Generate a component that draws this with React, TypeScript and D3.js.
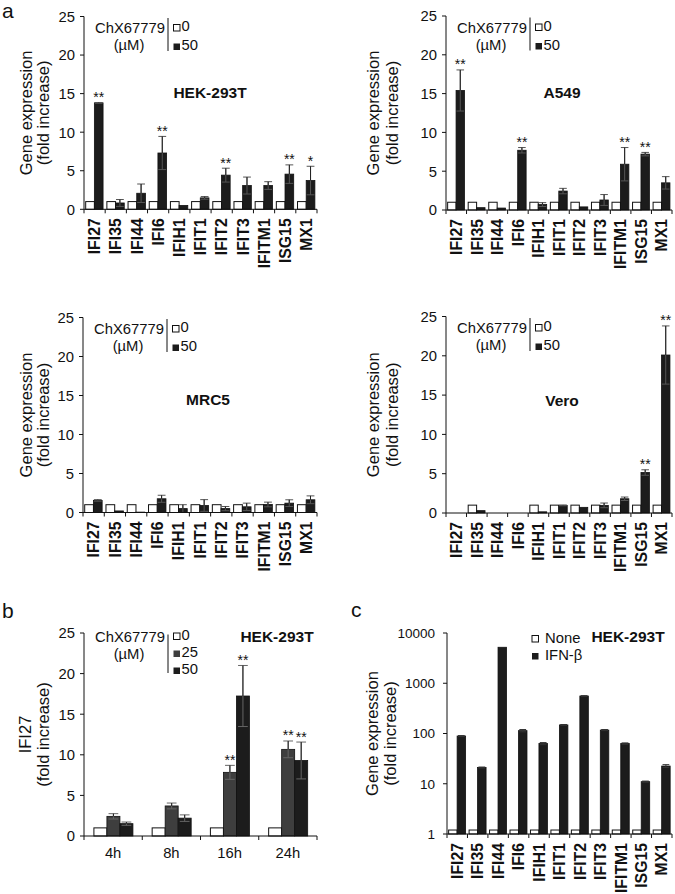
import React from "react";
import * as d3 from "d3";

const FONT = "'Liberation Sans', Arial, sans-serif";

const genes = ["IFI27", "IFI35", "IFI44", "IFI6", "IFIH1", "IFIT1", "IFIT2", "IFIT3", "IFITM1", "ISG15", "MX1"];
const linTicks = [0, 5, 10, 15, 20, 25];

// Panel a – HEK-293T
const hekCtrl = [1, 1, 1, 1, 1, 1, 1, 1, 1, 1, 1];
const hekTreat = [13.8, 0.82, 2.08, 7.3, 0.5, 1.48, 4.43, 3.08, 3.08, 4.56, 3.73];
const hekErr = [0.05, 0.45, 1.2, 2.15, 0, 0.17, 0.9, 1.1, 0.5, 1.2, 1.85];
const hekSig = ["**", "", "", "**", "", "", "**", "", "", "**", "*"];

// Panel a – A549
const a549Ctrl = [1, 1, 1, 1, 1, 1, 1, 1, 1, 1, 1];
const a549Treat = [15.4, 0.3, 0.25, 7.7, 0.7, 2.44, 0.4, 1.29, 5.9, 7.2, 3.5];
const a549Err = [2.65, 0, 0, 0.35, 0.25, 0.35, 0, 0.7, 2.15, 0.22, 0.8];
const a549Sig = ["**", "", "", "**", "", "", "", "", "**", "**", ""];

// Panel a – MRC5
const mrc5Ctrl = [1, 1, 1, 1, 1, 1, 1, 1, 1, 1, 1];
const mrc5Treat = [1.55, 0.2, 0.05, 1.76, 0.5, 0.9, 0.5, 0.73, 1.03, 1.2, 1.63];
const mrc5Err = [0.1, 0, 0, 0.45, 0.5, 0.75, 0.27, 0.47, 0.3, 0.43, 0.5];
const mrc5Sig = ["", "", "", "", "", "", "", "", "", "", ""];

// Panel a – Vero
const veroCtrl = [null, 1, null, null, 1, 1, 1, 1, 1, 1, 1];
const veroTreat = [null, 0.3, null, null, 0.15, 0.97, 0.72, 0.97, 1.81, 5.15, 20.1];
const veroErr = [0, 0, 0, 0, 0, 0.05, 0, 0.3, 0.22, 0.35, 3.7];
const veroSig = ["", "", "", "", "", "", "", "", "", "**", "**"];

// Panel b – IFI27 time course
const times = ["4h", "8h", "16h", "24h"];
const b0 = [1, 1, 1, 1];
const b25 = [2.42, 3.7, 7.84, 10.67];
const b25Err = [0.33, 0.36, 0.86, 1.03];
const b25Sig = ["", "", "**", "**"];
const b50 = [1.52, 2.2, 17.24, 9.3];
const b50Err = [0.2, 0.4, 3.76, 2.27];
const b50Sig = ["", "", "**", "**"];

// Panel c – IFN-beta
const cNone = [1.2, 1.2, 1.2, 1.2, 1.2, 1.2, 1.2, 1.2, 1.2, 1.2, 1.2];
const cIfn = [89, 21, 5200, 114, 63, 148, 557, 117, 63, 11, 22.5];
const cErr = [2, 0.5, 0, 6, 3, 3, 10, 3, 2, 0.3, 1.5];
const logTicks = [1, 10, 100, 1000, 10000];

const BLACK = "#1c1c1c";
const GRAY = "#3e3e3e";

function YTitle({ x1, x2, cy, lines }: { x1: number; x2: number; cy: number; lines: string[] }) {
  return (
    <g fontFamily={FONT} fontSize={16.5} fill="#111">
      <text transform={`translate(${x1},${cy}) rotate(-90)`} textAnchor="middle" dy="0.35em">{lines[0]}</text>
      <text transform={`translate(${x2},${cy}) rotate(-90)`} textAnchor="middle" dy="0.35em">{lines[1]}</text>
    </g>
  );
}

function ErrBar({ cx, yLo, yHi, w, color }: { cx: number; yLo: number; yHi: number; w: number; color: string }) {
  return (
    <g stroke={color} strokeWidth={1}>
      <line x1={cx} x2={cx} y1={yLo} y2={yHi} />
      <line x1={cx - w / 2} x2={cx + w / 2} y1={yHi} y2={yHi} />
      <line x1={cx - w / 2} x2={cx + w / 2} y1={yLo} y2={yLo} />
    </g>
  );
}

function Legend({ x0, yTop, labels, fills, rowYs, lineY2 }: { x0: number; yTop: number; labels: string[]; fills: string[]; rowYs: number[]; lineY2: number }) {
  return (
    <g fontFamily={FONT} fontSize={14.8} fill="#111">
      <text x={x0 + 11} y={yTop + rowYs[0] + 2}>ChX67779</text>
      <text x={x0 + 45} y={yTop + (rowYs[0] + 2) + 17} textAnchor="middle">(µM)</text>
      <line x1={x0 + 84} x2={x0 + 84} y1={yTop + 1.5} y2={yTop + lineY2} stroke="#111" />
      {labels.map((l, i) => (
        <g key={l}>
          <rect x={x0 + 89.5} y={yTop + rowYs[i] - 6.5} width={6.5} height={6.5} fill={fills[i]} stroke="#111" strokeWidth={fills[i] === "#fff" ? 1 : 0} />
          <text x={x0 + 97.5} y={yTop + rowYs[i]}>{l}</text>
        </g>
      ))}
    </g>
  );
}

type PanelAProps = {
  x0: number; x1: number; yTop: number; yBot: number;
  ctrl: (number | null)[]; treat: (number | null)[]; err: number[]; sig: string[];
  cell: string; cellX: number; cellY: number; titleX1: number; titleX2: number;
};

function PanelA(p: PanelAProps) {
  const x = d3.scaleBand<string>().domain(genes).range([p.x0, p.x1]);
  const bw = x.bandwidth();
  const sub = d3.scaleBand<string>().domain(["c", "t"]).range([bw * 0.08, bw * 0.9]);
  const y = d3.scaleLinear().domain([0, 25]).range([p.yBot, p.yTop]);
  const sw = sub.bandwidth();
  return (
    <g>
      <YTitle x1={p.titleX1} x2={p.titleX2} cy={(p.yTop + p.yBot) / 2} lines={["Gene expression", "(fold increase)"]} />
      {genes.map((g, i) => {
        const c = p.ctrl[i];
        const t = p.treat[i];
        const bx = x(g)!;
        const tc = bx + sub("t")! + sw / 2;
        const e = p.err[i];
        return (
          <g key={g}>
            {c != null && (
              <rect x={bx + sub("c")!} y={y(c)} width={sw} height={y(0) - y(c)} fill="#fff" stroke="#111" strokeWidth={1} />
            )}
            {t != null && (
              <rect x={bx + sub("t")!} y={y(t)} width={sw} height={y(0) - y(t)} fill={BLACK} stroke="#111" strokeWidth={0.8} />
            )}
            {t != null && e > 0 && (
              <ErrBar cx={tc} yLo={y(Math.max(0, t - e))} yHi={y(t + e)} w={sw * 0.9} color="#555" />
            )}
            {t != null && e > 0 && (
              <line x1={tc} x2={tc} y1={y(t)} y2={y(t + e)} stroke="#222" />
            )}
            {t != null && p.sig[i] && (
              <text x={tc} y={y(t + e) - 0.5} textAnchor="middle" fontFamily={FONT} fontSize={14} fill="#111">{p.sig[i]}</text>
            )}
          </g>
        );
      })}
      <line x1={p.x0} x2={p.x0} y1={p.yTop} y2={p.yBot} stroke="#111" />
      {linTicks.map((t) => (
        <g key={t}>
          <line x1={p.x0 - 4} x2={p.x0} y1={y(t)} y2={y(t)} stroke="#111" />
          <text x={p.x0 - 9} y={y(t)} dy="0.36em" textAnchor="end" fontFamily={FONT} fontSize={14.8} fill="#111">{t}</text>
        </g>
      ))}
      <line x1={p.x0} x2={p.x1} y1={p.yBot} y2={p.yBot} stroke="#111" />
      {genes.map((g) => (
        <line key={g} x1={x(g)! + bw} x2={x(g)! + bw} y1={p.yBot} y2={p.yBot + 4} stroke="#111" />
      ))}
      <line x1={p.x0} x2={p.x0} y1={p.yBot} y2={p.yBot + 4} stroke="#111" />
      {genes.map((g) => (
        <text key={g} transform={`translate(${x(g)! + bw / 2},${p.yBot + 9}) rotate(-90)`} textAnchor="end" dy="0.36em" fontFamily={FONT} fontWeight="bold" fontSize={15.8} fill="#111">{g}</text>
      ))}
      <Legend x0={p.x0} yTop={p.yTop} labels={["0", "50"]} fills={["#fff", BLACK]} rowYs={[14.5, 33.5]} lineY2={34.5} />
      <text x={p.cellX} y={p.cellY} textAnchor="middle" fontFamily={FONT} fontWeight="bold" fontSize={15.5} fill="#111">{p.cell}</text>
    </g>
  );
}

function PanelB() {
  const x0 = 84, x1 = 317, yTop = 633, yBot = 836;
  const x = d3.scaleBand<string>().domain(times).range([x0, x1]);
  const bw = x.bandwidth();
  const sub = d3.scaleBand<string>().domain(["0", "25", "50"]).range([bw * 0.17, bw * 0.84]);
  const sw = sub.bandwidth();
  const y = d3.scaleLinear().domain([0, 25]).range([yBot, yTop]);
  const series = [
    { key: "0", vals: b0, err: [0, 0, 0, 0], sig: ["", "", "", ""], fill: "#fff" },
    { key: "25", vals: b25, err: b25Err, sig: b25Sig, fill: GRAY },
    { key: "50", vals: b50, err: b50Err, sig: b50Sig, fill: BLACK },
  ];
  return (
    <g>
      <YTitle x1={25} x2={43.5} cy={(yTop + yBot) / 2} lines={["IFI27", "(fold increase)"]} />
      {times.map((tm, i) => (
        <g key={tm}>
          {series.map((s) => {
            const v = s.vals[i];
            const bx = x(tm)! + sub(s.key)!;
            const cx = bx + sw / 2;
            const e = s.err[i];
            return (
              <g key={s.key}>
                <rect x={bx} y={y(v)} width={sw} height={y(0) - y(v)} fill={s.fill} stroke="#111" strokeWidth={s.fill === "#fff" ? 1 : 0.8} />
                {e > 0 && <ErrBar cx={cx} yLo={y(v - e)} yHi={y(v + e)} w={sw * 0.75} color="#666" />}
                {e > 0 && <line x1={cx} x2={cx} y1={y(v)} y2={y(v + e)} stroke="#222" />}
                {s.sig[i] && (
                  <text x={cx} y={y(v + e) - 0.5} textAnchor="middle" fontFamily={FONT} fontSize={14} fill="#111">{s.sig[i]}</text>
                )}
              </g>
            );
          })}
        </g>
      ))}
      <line x1={x0} x2={x0} y1={yTop} y2={yBot} stroke="#111" />
      {linTicks.map((t) => (
        <g key={t}>
          <line x1={x0 - 4} x2={x0} y1={y(t)} y2={y(t)} stroke="#111" />
          <text x={x0 - 9} y={y(t)} dy="0.36em" textAnchor="end" fontFamily={FONT} fontSize={14.8} fill="#111">{t}</text>
        </g>
      ))}
      <line x1={x0} x2={x1} y1={yBot} y2={yBot} stroke="#111" />
      <line x1={x0} x2={x0} y1={yBot} y2={yBot + 4} stroke="#111" />
      {times.map((tm) => (
        <g key={tm}>
          <line x1={x(tm)! + bw} x2={x(tm)! + bw} y1={yBot} y2={yBot + 4} stroke="#111" />
          <text x={x(tm)! + bw / 2} y={yBot + 22} textAnchor="middle" fontFamily={FONT} fontSize={14.8} fill="#111">{tm}</text>
        </g>
      ))}
      <Legend x0={x0} yTop={yTop} labels={["0", "25", "50"]} fills={["#fff", GRAY, BLACK]} rowYs={[6.5, 24, 41]} lineY2={40} />
      <text x={277} y={642} textAnchor="middle" fontFamily={FONT} fontWeight="bold" fontSize={15.5} fill="#111">HEK-293T</text>
    </g>
  );
}

function PanelC() {
  const x0 = 447, x1 = 672, yTop = 633, yBot = 834;
  const x = d3.scaleBand<string>().domain(genes).range([x0, x1]);
  const bw = x.bandwidth();
  const sub = d3.scaleBand<string>().domain(["n", "i"]).range([bw * 0.08, bw * 0.91]);
  const sw = sub.bandwidth();
  const y = d3.scaleLog().domain([1, 10000]).range([yBot, yTop]);
  return (
    <g>
      <YTitle x1={372.5} x2={390.5} cy={(yTop + yBot) / 2} lines={["Gene expression", "(fold increase)"]} />
      {genes.map((g, i) => {
        const bx = x(g)!;
        const v = cIfn[i];
        const e = cErr[i];
        const cx = bx + sub("i")! + sw / 2;
        return (
          <g key={g}>
            <rect x={bx + sub("n")!} y={y(cNone[i])} width={sw} height={y(1) - y(cNone[i])} fill="#fff" stroke="#111" strokeWidth={1} />
            <rect x={bx + sub("i")!} y={y(v)} width={sw} height={y(1) - y(v)} fill={BLACK} stroke="#111" strokeWidth={0.8} />
            {e > 0 && <ErrBar cx={cx} yLo={y(v - e)} yHi={y(v + e)} w={sw * 0.8} color="#333" />}
          </g>
        );
      })}
      <line x1={x0} x2={x0} y1={yTop} y2={yBot} stroke="#111" />
      {logTicks.map((t) => (
        <g key={t}>
          <line x1={x0 - 4} x2={x0} y1={y(t)} y2={y(t)} stroke="#111" />
          <text x={x0 - 12} y={y(t)} dy="0.36em" textAnchor="end" fontFamily={FONT} fontSize={13.5} fill="#111">{t}</text>
        </g>
      ))}
      <line x1={x0} x2={x1} y1={yBot} y2={yBot} stroke="#111" />
      <line x1={x0} x2={x0} y1={yBot} y2={yBot + 4} stroke="#111" />
      {genes.map((g) => (
        <line key={g} x1={x(g)! + bw} x2={x(g)! + bw} y1={yBot} y2={yBot + 4} stroke="#111" />
      ))}
      {genes.map((g) => (
        <text key={g} transform={`translate(${x(g)! + bw / 2},${yBot + 9}) rotate(-90)`} textAnchor="end" dy="0.36em" fontFamily={FONT} fontWeight="bold" fontSize={15.8} fill="#111">{g}</text>
      ))}
      <g fontFamily={FONT} fontSize={14.8} fill="#111">
        <rect x={532} y={635.5} width={6.5} height={6.5} fill="#fff" stroke="#111" />
        <text x={545} y={642.5}>None</text>
        <rect x={532} y={653} width={6.5} height={6.5} fill={BLACK} />
        <text x={545} y={659.5}>IFN-β</text>
      </g>
      <text x={628} y={642} textAnchor="middle" fontFamily={FONT} fontWeight="bold" fontSize={15.5} fill="#111">HEK-293T</text>
    </g>
  );
}

export default function App() {
  return (
    <svg width={675} height={894} style={{ position: "absolute", left: 0, top: 0, background: "#fff" }}>
      <rect x={0} y={0} width={675} height={894} fill="#fff" />
      <g fontFamily={FONT} fontSize={21} fill="#111">
        <text x={2} y={18}>a</text>
        <text x={2} y={618}>b</text>
        <text x={351} y={617}>c</text>
      </g>
      <PanelA x0={84} x1={317} yTop={16.5} yBot={209.3} ctrl={hekCtrl} treat={hekTreat} err={hekErr} sig={hekSig}
        cell="HEK-293T" cellX={210} cellY={98.3} titleX1={26} titleX2={43.5} />
      <PanelA x0={446} x1={672} yTop={16} yBot={210} ctrl={a549Ctrl} treat={a549Treat} err={a549Err} sig={a549Sig}
        cell="A549" cellX={562} cellY={98.3} titleX1={373} titleX2={392} />
      <PanelA x0={83} x1={317} yTop={317.5} yBot={512.5} ctrl={mrc5Ctrl} treat={mrc5Treat} err={mrc5Err} sig={mrc5Sig}
        cell="MRC5" cellX={208} cellY={405} titleX1={26} titleX2={43.5} />
      <PanelA x0={446} x1={672} yTop={316.5} yBot={513} ctrl={veroCtrl} treat={veroTreat} err={veroErr} sig={veroSig}
        cell="Vero" cellX={562} cellY={405.5} titleX1={373} titleX2={392} />
      <PanelB />
      <PanelC />
    </svg>
  );
}
